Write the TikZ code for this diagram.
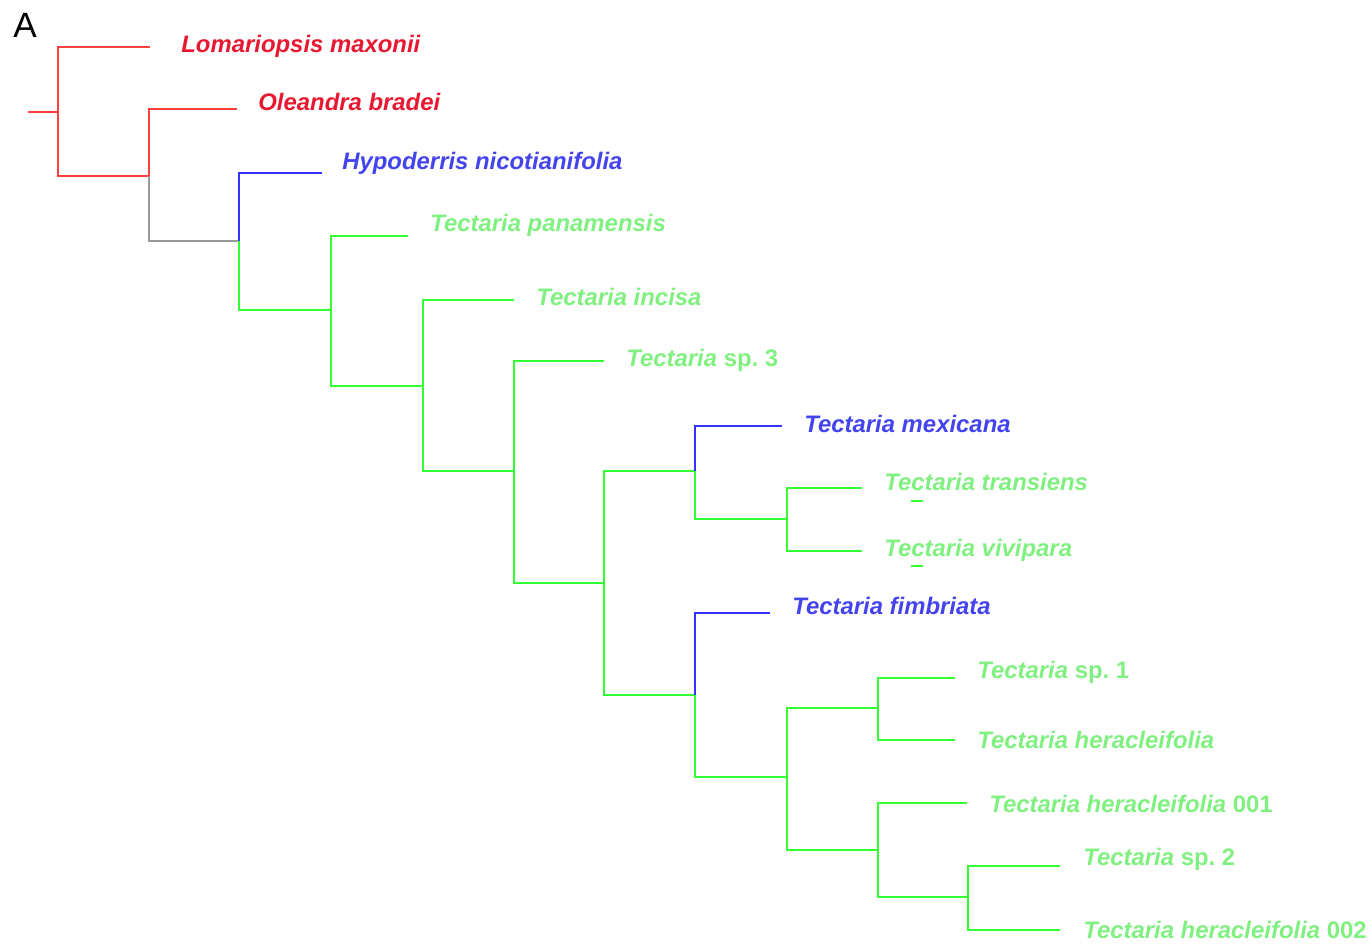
\documentclass[tikz,border=0pt]{standalone}
\usepackage{fontspec}
\setmainfont{Liberation Sans}
\frenchspacing
\definecolor{labred}{RGB}{232,24,48}
\definecolor{linered}{RGB}{255,64,64}
\definecolor{labblue}{RGB}{68,68,238}
\definecolor{lineblue}{RGB}{51,51,255}
\definecolor{labgreen}{RGB}{128,240,128}
\definecolor{linegreen}{RGB}{51,255,51}
\definecolor{linegrey}{RGB}{153,153,153}
\begin{document}
\begin{tikzpicture}[x=0.02cm,y=-0.02cm,
  br/.style={line width=1.15pt},
  rbr/.style={br,draw=linered},
  bbr/.style={br,draw=lineblue},
  gbr/.style={br,draw=linegreen},
  kbr/.style={br,draw=linegrey},
  lab/.style={anchor=base west,inner sep=0pt,font=\fontsize{13.6}{16}\selectfont\bfseries},
  rlab/.style={lab,text=labred},
  blab/.style={lab,text=labblue},
  glab/.style={lab,text=labgreen}]
\useasboundingbox (0,0) rectangle (1372,943);

% panel letter
\node[anchor=base west,inner sep=0pt,font=\fontsize{20}{24}\selectfont] (panel) at (13,37) {A};

% internal nodes
\coordinate (root) at (28,112);
\coordinate (nA) at (58,112);
\coordinate (nB) at (149,176);
\coordinate (nC) at (239,241);
\coordinate (nD) at (331,310);
\coordinate (nE) at (423,386);
\coordinate (nF) at (514,471);
\coordinate (nG) at (604,583);
\coordinate (nH) at (695,471);
\coordinate (nJ) at (787,519);
\coordinate (nI) at (695,695);
\coordinate (nK) at (787,777);
\coordinate (nL) at (878,708);
\coordinate (nM) at (878,850);
\coordinate (nN) at (968,897);

% branch tips
\coordinate (tLom) at (150,47);
\coordinate (tOle) at (237,109);
\coordinate (tHyp) at (322,173);
\coordinate (tPan) at (408,236);
\coordinate (tInc) at (514,300);
\coordinate (tSp3) at (604,361);
\coordinate (tMex) at (782,426);
\coordinate (tTra) at (862,488);
\coordinate (tViv) at (862,551);
\coordinate (tFim) at (770,613);
\coordinate (tSp1) at (955,678);
\coordinate (tHer) at (955,740);
\coordinate (tH01) at (967,803);
\coordinate (tSp2) at (1060,866);
\coordinate (tH02) at (1060,930);

% branches
\draw[rbr] (root) -- (nA);
\draw[rbr] (nA) |- (tLom);
\draw[rbr] (nA) |- (nB);
\draw[rbr] (nB) |- (tOle);
\draw[kbr] (nB) |- (nC);
\draw[bbr] (nC) |- (tHyp);
\draw[gbr] (nC) |- (nD);
\draw[gbr] (nD) |- (tPan);
\draw[gbr] (nD) |- (nE);
\draw[gbr] (nE) |- (tInc);
\draw[gbr] (nE) |- (nF);
\draw[gbr] (nF) |- (tSp3);
\draw[gbr] (nF) |- (nG);
\draw[gbr] (nG) |- (nH);
\draw[gbr] (nG) |- (nI);
\draw[bbr] (nH) |- (tMex);
\draw[gbr] (nH) |- (nJ);
\draw[gbr] (nJ) |- (tTra);
\draw[gbr] (nJ) |- (tViv);
\draw[bbr] (nI) |- (tFim);
\draw[gbr] (nI) |- (nK);
\draw[gbr] (nK) |- (nL);
\draw[gbr] (nK) |- (nM);
\draw[gbr] (nL) |- (tSp1);
\draw[gbr] (nL) |- (tHer);
\draw[gbr] (nM) |- (tH01);
\draw[gbr] (nM) |- (nN);
\draw[gbr] (nN) |- (tSp2);
\draw[gbr] (nN) |- (tH02);

% taxon labels
\node[rlab] (lLom) at (181,52) {\itshape Lomariopsis maxonii};
\node[rlab] (lOle) at (258,110) {\itshape Oleandra bradei};
\node[blab] (lHyp) at (342,169) {\itshape Hypoderris nicotianifolia};
\node[glab] (lPan) at (430,231) {\itshape Tectaria panamensis};
\node[glab] (lInc) at (536,305) {\itshape Tectaria incisa};
\node[glab] (lSp3) at (626,366) {{\itshape Tectaria} sp. 3};
\node[blab] (lMex) at (804,432) {\itshape Tectaria mexicana};
\node[glab] (lTra) at (884,490) {\itshape Tectaria transiens};
\node[glab] (lViv) at (884,556) {\itshape Tectaria vivipara};
\node[blab] (lFim) at (792,614) {\itshape Tectaria fimbriata};
\node[glab] (lSp1) at (977,678) {{\itshape Tectaria} sp. 1};
\node[glab] (lHer) at (977,748) {\itshape Tectaria heracleifolia};
\node[glab] (lH01) at (989,812) {{\itshape Tectaria heracleifolia} 001};
\node[glab] (lSp2) at (1083,865) {{\itshape Tectaria} sp. 2};
\node[glab] (lH02) at (1083,938) {{\itshape Tectaria heracleifolia} 002};

% short marks under two labels
\coordinate (mTa) at (911,501);
\coordinate (mTb) at (923,501);
\coordinate (mVa) at (911,566);
\coordinate (mVb) at (923,566);
\draw[gbr] (mTa) -- (mTb);
\draw[gbr] (mVa) -- (mVb);
\end{tikzpicture}
\end{document}
